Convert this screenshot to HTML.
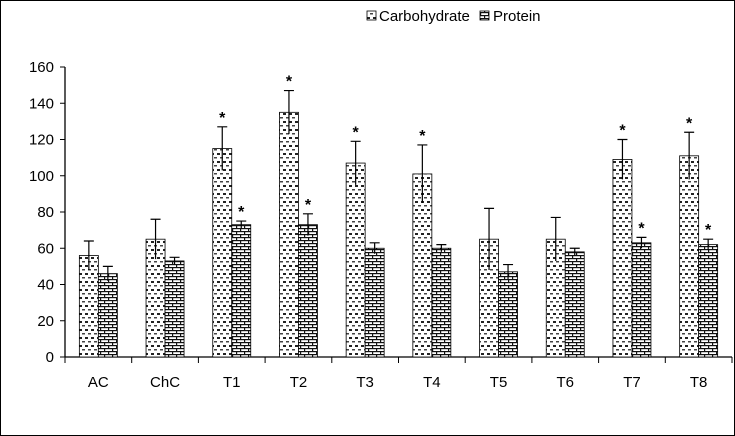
<!DOCTYPE html>
<html><head><meta charset="utf-8"><style>
body{margin:0;background:#fff}
svg{display:block;font-family:"Liberation Sans",sans-serif}
</style></head><body>
<svg id="chart" width="735" height="436" viewBox="0 0 735 436">
<defs>
<pattern id="pc" width="6" height="8" patternUnits="userSpaceOnUse">
<rect width="6" height="8" fill="#fff"/><rect x="1" y="1" width="3" height="2" fill="#222"/><rect x="4" y="5" width="2" height="1.5" fill="#444"/><rect x="0" y="5" width="1" height="1.5" fill="#444"/>
</pattern>
<pattern id="pp" width="8" height="6" patternUnits="userSpaceOnUse">
<rect width="8" height="6" fill="#fff"/><rect y="0" width="8" height="1.2" fill="#111"/><rect y="3" width="8" height="1.2" fill="#111"/><rect x="0" y="0" width="1.2" height="3" fill="#111"/><rect x="4" y="3" width="1.2" height="3" fill="#111"/>
</pattern>
</defs>
<rect x="0.5" y="0.5" width="734" height="435" fill="#fff" stroke="#000"/>
<g>
<rect x="367" y="11" width="9" height="9" fill="url(#pc)" stroke="#000" stroke-width="0.8"/>
<text x="379" y="21" font-size="15">Carbohydrate</text>
<rect x="480" y="11" width="9" height="9" fill="url(#pp)" stroke="#000" stroke-width="0.8"/>
<text x="493" y="21" font-size="15">Protein</text>
</g>
<g id="axes"></g>
<g id="bars"></g>
</svg>
<script>
const categories=["AC","ChC","T1","T2","T3","T4","T5","T6","T7","T8"];
const carb=[56,65,115,135,107,101,65,65,109,111];
const carbErr=[8,11,12,12,12,16,17,12,11,13];
const prot=[46,53,73,73,60,60,47,58,63,62];
const protErr=[4,2,2,6,3,2,4,2,3,3];
const carbSig=[0,0,1,1,1,1,0,0,1,1];
const protSig=[0,0,1,1,0,0,0,0,1,1];
const yTicks=[0,20,40,60,80,100,120,140,160];
const NS="http://www.w3.org/2000/svg";
const x0=65,x1=732,y0=357,yTop=67,ymax=160;
const bw=(x1-x0)/categories.length;
const y=v=>y0-(v/ymax)*(y0-yTop);
const xc=i=>x0+bw*(i+0.5);
function mk(tag,attrs,parent,text){const e=document.createElementNS(NS,tag);for(const k in attrs)e.setAttribute(k,attrs[k]);if(text!==undefined)e.textContent=text;parent.appendChild(e);return e;}
const ax=document.getElementById('axes'),bars=document.getElementById('bars');
let l=mk('line',{x1:x0,y1:yTop,x2:x0,y2:y0,stroke:'#000','stroke-width':1.3},ax);


l=mk('line',{x1:x0,y1:y0,x2:x1,y2:y0,stroke:'#000','stroke-width':1.3},ax);


yTicks.forEach(t=>{
 const tk=mk('line',{x1:x0-5,y1:y(t),x2:x0,y2:y(t),stroke:'#000'},ax);
 
 
 const tx=mk('text',{x:x0-11,y:y(t)+5,'text-anchor':'end','font-size':15},ax,t);
 
 
});
for(let i=0;i<=categories.length;i++){
 const tk=mk('line',{x1:x0+bw*i,y1:y0,x2:x0+bw*i,y2:y0+6,stroke:'#000'},ax);
 
 
}
const w=19;
categories.forEach((c,i)=>{
 const tx=mk('text',{x:xc(i),y:387,'text-anchor':'middle','font-size':15},ax,c);
 
 
 [[carb,carbErr,carbSig,'pc',-w,'carbohydrate'],[prot,protErr,protSig,'pp',0,'protein']].forEach(([vals,errs,sig,pat,off,nm])=>{
  const v=vals[i],bx=xc(i)+off;
  const r=mk('rect',{x:bx,y:y(v),width:w,height:y0-y(v),fill:'url(#'+pat+')',stroke:'#000','stroke-width':0.8},bars);
  
  
  const cx=bx+w/2;
  const e=mk('path',{d:`M${cx},${y(v-errs[i])}V${y(v+errs[i])}M${cx-5},${y(v+errs[i])}H${cx+5}`,stroke:'#000','stroke-width':1.2,fill:'none'},bars);
  
  
  if(sig[i]){
   const s=mk('text',{x:cx,y:y(v+errs[i])-4,'text-anchor':'middle','font-size':16,'font-weight':'bold'},bars,'*');
   
   
  }
 });
});
</script>
</body></html>
